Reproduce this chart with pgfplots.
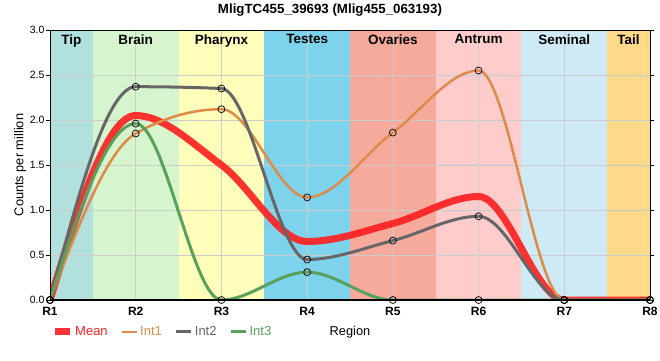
\documentclass[border=0pt]{standalone}
\usepackage{fontspec}
\setmainfont{Liberation Sans}
\usepackage{pgfplots}
\pgfplotsset{compat=1.18}
\definecolor{cTip}{RGB}{178,224,220}
\definecolor{cBrain}{RGB}{214,245,206}
\definecolor{cPhar}{RGB}{255,255,187}
\definecolor{cTest}{RGB}{125,211,236}
\definecolor{cOva}{RGB}{245,170,155}
\definecolor{cAntr}{RGB}{255,204,204}
\definecolor{cSem}{RGB}{206,234,244}
\definecolor{cTail}{RGB}{254,217,138}
\definecolor{cMean}{RGB}{255,30,30}
\definecolor{cInt1}{RGB}{222,139,74}
\definecolor{cInt2}{RGB}{102,102,102}
\definecolor{cInt3}{RGB}{88,160,92}
% monotone cubic plot handler (like d3 curveMonotoneX)
\makeatletter
\newcount\mono@n \newcount\mono@i \newcount\mono@a \newcount\mono@b
\def\pgfplothandlermonotone{%
  \def\pgf@plotstreamstart{%
    \global\mono@n=0
    \global\let\pgf@plotstreampoint=\mono@point
    \global\let\pgf@plotstreamspecial=\@gobble
    \global\let\pgf@plotstreamend=\mono@end
  }%
}
\def\mono@point#1{%
  \pgf@process{#1}%
  \global\advance\mono@n by 1
  \expandafter\xdef\csname mono@x@\the\mono@n\endcsname{\the\pgf@x}%
  \expandafter\xdef\csname mono@y@\the\mono@n\endcsname{\the\pgf@y}%
}
\def\mono@X#1{\csname mono@x@#1\endcsname}
\def\mono@Y#1{\csname mono@y@#1\endcsname}
\def\mono@end{%
  \ifnum\mono@n<3
    \pgf@plot@first@action{\pgfqpoint{\mono@X{1}}{\mono@Y{1}}}%
    \mono@i=2
    \loop\ifnum\mono@i>\mono@n\else
      \pgfpathlineto{\pgfqpoint{\mono@X{\the\mono@i}}{\mono@Y{\the\mono@i}}}%
      \advance\mono@i by 1
    \repeat
  \else
    \mono@i=2
    \loop\ifnum\mono@i<\mono@n
      \mono@a=\mono@i \advance\mono@a by -1
      \mono@b=\mono@i \advance\mono@b by 1
      \edef\mxa{\mono@X{\the\mono@a}}\edef\mxi{\mono@X{\the\mono@i}}\edef\mxb{\mono@X{\the\mono@b}}%
      \edef\mya{\mono@Y{\the\mono@a}}\edef\myi{\mono@Y{\the\mono@i}}\edef\myb{\mono@Y{\the\mono@b}}%
      \pgfmathsetmacro\mhA{\mxi-\mxa}%
      \pgfmathsetmacro\mhB{\mxb-\mxi}%
      \pgfmathsetmacro\msA{(\myi-\mya)/\mhA}%
      \pgfmathsetmacro\msB{(\myb-\myi)/\mhB}%
      \pgfmathsetmacro\mp{(\msA*\mhB+\msB*\mhA)/(\mhA+\mhB)}%
      \pgfmathsetmacro\mt{(\msA*\msB>0) ? (((\msA>0) ? 2 : -2)*min(abs(\msA),abs(\msB),0.5*abs(\mp))) : 0}%
      \expandafter\xdef\csname mono@t@\the\mono@i\endcsname{\mt}%
      \advance\mono@i by 1
    \repeat
    % end tangents
    \edef\mxa{\mono@X{1}}\edef\mxb{\mono@X{2}}\edef\mya{\mono@Y{1}}\edef\myb{\mono@Y{2}}%
    \edef\mtb{\csname mono@t@2\endcsname}%
    \pgfmathsetmacro\mt{(3*(\myb-\mya)/(\mxb-\mxa)-\mtb)/2}%
    \expandafter\xdef\csname mono@t@1\endcsname{\mt}%
    \mono@a=\mono@n \advance\mono@a by -1
    \edef\mxa{\mono@X{\the\mono@a}}\edef\mxb{\mono@X{\the\mono@n}}\edef\mya{\mono@Y{\the\mono@a}}\edef\myb{\mono@Y{\the\mono@n}}%
    \edef\mtb{\csname mono@t@\the\mono@a\endcsname}%
    \pgfmathsetmacro\mt{(3*(\myb-\mya)/(\mxb-\mxa)-\mtb)/2}%
    \expandafter\xdef\csname mono@t@\the\mono@n\endcsname{\mt}%
    % path
    \pgf@plot@first@action{\pgfqpoint{\mono@X{1}}{\mono@Y{1}}}%
    \mono@i=1
    \loop\ifnum\mono@i<\mono@n
      \mono@b=\mono@i \advance\mono@b by 1
      \edef\mxa{\mono@X{\the\mono@i}}\edef\mxb{\mono@X{\the\mono@b}}%
      \edef\mya{\mono@Y{\the\mono@i}}\edef\myb{\mono@Y{\the\mono@b}}%
      \edef\mta{\csname mono@t@\the\mono@i\endcsname}\edef\mtb{\csname mono@t@\the\mono@b\endcsname}%
      \pgfmathsetmacro\mdx{(\mxb-\mxa)/3}%
      \pgfmathsetmacro\mcax{\mxa+\mdx}%
      \pgfmathsetmacro\mcay{\mya+\mdx*\mta}%
      \pgfmathsetmacro\mcbx{\mxb-\mdx}%
      \pgfmathsetmacro\mcby{\myb-\mdx*\mtb}%
      \pgfpathcurveto{\pgfqpoint{\mcax pt}{\mcay pt}}{\pgfqpoint{\mcbx pt}{\mcby pt}}{\pgfqpoint{\mxb}{\myb}}%
      \advance\mono@i by 1
    \repeat
  \fi
}
\tikzset{monotone/.code={\let\tikz@plot@handler=\pgfplothandlermonotone}}
\makeatother
\begin{document}
\begin{tikzpicture}
\begin{axis}[
  set layers,
  scale only axis, width=600pt, height=270pt,
  xmin=0, xmax=7, ymin=0, ymax=3,
  xtick={0,...,7}, xticklabels={R1,R2,R3,R4,R5,R6,R7,R8},
  ytick={0,0.5,...,3},
  /pgf/number format/fixed, /pgf/number format/fixed zerofill, /pgf/number format/precision=1,
  /pgf/number format/assume math mode=true,
  yticklabel style={font=\fontsize{10.5}{11}\selectfont, xshift=2pt},
  xticklabel style={font=\fontsize{12}{12}\selectfont\bfseries},
  xtick style={draw=none},
  ytick style={black, line width=0.6pt},
  tick align=outside, major tick length=4pt,
  grid=major, grid style={color=black!20, line width=0.7pt},
  axis line style={line width=0.8pt},
  title={\bfseries MligTC455\_39693 (Mlig455\_063193)},
  title style={font=\fontsize{13.3}{14}\selectfont, at={(axis description cs:0.5,1)}, anchor=south, yshift=4pt, xshift=-20pt},
  ylabel={Counts per million},
  ylabel style={font=\fontsize{12.8}{13}\selectfont, at={(axis description cs:-0.05,0.5)}, anchor=center},
  xlabel={Region},
  xlabel style={font=\fontsize{12.8}{13}\selectfont, at={(axis description cs:0.5,-0.118)}, anchor=center},
  legend style={at={(axis description cs:0,-0.118)}, anchor=west, xshift=-2pt, draw=none, fill=none,
    font=\fontsize{13}{13}\selectfont, legend columns=-1,
    /tikz/every even column/.append style={column sep=11pt}},
  legend image code/.code={\draw[#1] (0pt,0pt) -- (15pt,0pt);},
  every axis plot/.append style={monotone},
  mark options={fill=white, draw=black, line width=0.7pt, solid, opacity=1},
]
% region bands
\addplot[draw=none, fill=cTip, on layer=axis background, forget plot, sharp plot] coordinates {(0,3) (0.5,3)} \closedcycle;
\addplot[draw=none, fill=cBrain, on layer=axis background, forget plot, sharp plot] coordinates {(0.5,3) (1.5,3)} \closedcycle;
\addplot[draw=none, fill=cPhar, on layer=axis background, forget plot, sharp plot] coordinates {(1.5,3) (2.5,3)} \closedcycle;
\addplot[draw=none, fill=cTest, on layer=axis background, forget plot, sharp plot] coordinates {(2.5,3) (3.5,3)} \closedcycle;
\addplot[draw=none, fill=cOva, on layer=axis background, forget plot, sharp plot] coordinates {(3.5,3) (4.5,3)} \closedcycle;
\addplot[draw=none, fill=cAntr, on layer=axis background, forget plot, sharp plot] coordinates {(4.5,3) (5.5,3)} \closedcycle;
\addplot[draw=none, fill=cSem, on layer=axis background, forget plot, sharp plot] coordinates {(5.5,3) (6.5,3)} \closedcycle;
\addplot[draw=none, fill=cTail, on layer=axis background, forget plot, sharp plot] coordinates {(6.5,3) (7,3)} \closedcycle;
% series
\addplot[cMean, line width=7pt, opacity=0.9, mark=none] coordinates {(0,0) (1,2.05) (2,1.5) (3,0.65) (4,0.85) (5,1.15) (6,0) (7,0)};
\addlegendentry{\textcolor{cMean}{Mean}}
\addplot[cInt1, line width=2.5pt, mark=o, mark size=3.5pt] coordinates {(0,0) (1,1.85) (2,2.12) (3,1.14) (4,1.86) (5,2.55) (6,0) (7,0)};
\addlegendentry{\textcolor{cInt1}{Int1}}
\addplot[cInt2, line width=3pt, mark=o, mark size=3.5pt] coordinates {(0,0) (1,2.37) (2,2.35) (3,0.45) (4,0.66) (5,0.93) (6,0) (7,0)};
\addlegendentry{\textcolor{cInt2}{Int2}}
\addplot[cInt3, line width=3pt, mark=o, mark size=3.5pt] coordinates {(0,0) (1,1.96) (2,0) (3,0.31) (4,0) (5,0) (6,0) (7,0)};
\addlegendentry{\textcolor{cInt3}{Int3}}
% region labels
\begin{scope}[every node/.style={anchor=north, font=\fontsize{13.5}{14}\selectfont\bfseries, inner sep=0pt, yshift=-4.5pt}]
\node at (axis cs:0.25,3) {Tip};
\node at (axis cs:1,3) {Brain};
\node at (axis cs:2,3) {Pharynx};
\node at (axis cs:3,3) {Testes};
\node at (axis cs:4,3) {Ovaries};
\node at (axis cs:5,3) {Antrum};
\node at (axis cs:6,3) {Seminal};
\node at (axis cs:6.75,3) {Tail};
\end{scope}
\draw[line width=2.5pt, black] (rel axis cs:0,1) -- (rel axis cs:0,0) -- (rel axis cs:1,0);
\end{axis}
\pgfresetboundingbox
\useasboundingbox (-50pt,-60pt) rectangle (610pt,300pt);
\end{tikzpicture}
\end{document}
